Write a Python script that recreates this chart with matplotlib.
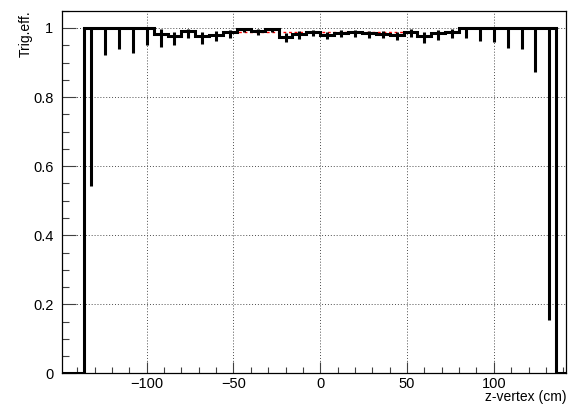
import numpy as np
import matplotlib.pyplot as plt
from matplotlib.ticker import MultipleLocator

plt.rcParams["font.family"] = ["Liberation Sans", "DejaVu Sans"]

# z-vertex binning: 8 cm bins, empty bins outside the acceptance
BIN_EDGES = np.arange(-152, 145, 8)

# trigger efficiency per bin (inner bins -136..136 cm)
EFFICIENCY = [
    1.000, 1.000, 1.000, 1.000, 1.000, 0.982, 0.977, 0.990, 0.978,
    0.981, 0.987, 0.998, 0.991, 0.997, 0.975, 0.982, 0.988,
    0.980, 0.986, 0.987, 0.984, 0.982, 0.980, 0.989, 0.977,
    0.985, 0.989, 1.000, 1.000, 1.000, 1.000, 1.000, 1.000, 1.000,
]
ERR_LOW = [
    0.456, 0.079, 0.062, 0.071, 0.049, 0.037, 0.027, 0.020, 0.024,
    0.018, 0.016, 0.010, 0.012, 0.010, 0.015, 0.014, 0.012,
    0.012, 0.012, 0.012, 0.013, 0.012, 0.014, 0.014, 0.021,
    0.020, 0.019, 0.028, 0.038, 0.042, 0.057, 0.062, 0.127, 0.846,
]
ERR_HIGH = [
    0.000, 0.000, 0.000, 0.000, 0.000, 0.014, 0.011, 0.008, 0.010,
    0.009, 0.008, 0.002, 0.006, 0.003, 0.009, 0.009, 0.007,
    0.008, 0.007, 0.007, 0.008, 0.008, 0.008, 0.007, 0.010,
    0.009, 0.007, 0.000, 0.000, 0.000, 0.000, 0.000, 0.000, 0.000,
]

# constant fit over the central region
FIT_RANGE = (-50, 50)
FIT_VALUE = 0.989

content = np.zeros(len(BIN_EDGES) - 1)
content[2:2 + len(EFFICIENCY)] = EFFICIENCY
centers = 0.5 * (BIN_EDGES[:-1] + BIN_EDGES[1:])[2:2 + len(EFFICIENCY)]

fig = plt.figure(figsize=(5.7, 4.05), dpi=100)
ax = fig.add_axes([0.1082, 0.0778, 0.8848, 0.8958])

ax.plot(FIT_RANGE, [FIT_VALUE, FIT_VALUE], color="red", lw=1.0,
        linestyle=(0, (2, 2)), zorder=2)
ax.stairs(content, BIN_EDGES, color="black", lw=2.2, zorder=3)
ax.errorbar(centers, EFFICIENCY, yerr=[ERR_LOW, ERR_HIGH], fmt="none",
            ecolor="black", elinewidth=2.2, capsize=0, zorder=3)

ax.set_xlim(-149, 141.6)
ax.set_ylim(0, 1.05)

ax.xaxis.set_minor_locator(MultipleLocator(10))
ax.yaxis.set_minor_locator(MultipleLocator(0.05))
ax.set_yticks([0, 0.2, 0.4, 0.6, 0.8, 1.0])
ax.set_yticklabels(["0", "0.2", "0.4", "0.6", "0.8", "1"])
ax.set_xticks([-100, -50, 0, 50, 100])
ax.set_xticklabels(["\u2212100", "\u221250", "0", "50", "100"])

ax.tick_params(which="both", direction="in", top=False, right=False,
               labelsize=10.5, width=0.8, color="0.25")
ax.tick_params(axis="x", which="major", length=8, pad=2.5)
ax.tick_params(axis="x", which="minor", length=4)
ax.tick_params(axis="y", which="major", length=10, pad=6)
ax.tick_params(axis="y", which="minor", length=5)

ax.grid(True, which="major", color="0.3", lw=0.7, linestyle=(0, (1, 2)))
ax.set_axisbelow(True)
for spine in ax.spines.values():
    spine.set_linewidth(0.9)

fig.text(0.993, 0.002, "z-vertex (cm)", ha="right", va="bottom", fontsize=10)
fig.text(0.046, 0.9736, "Trig.eff.", ha="center", va="top", rotation=90,
         fontsize=10)

fig.savefig("out.png", dpi=100)
